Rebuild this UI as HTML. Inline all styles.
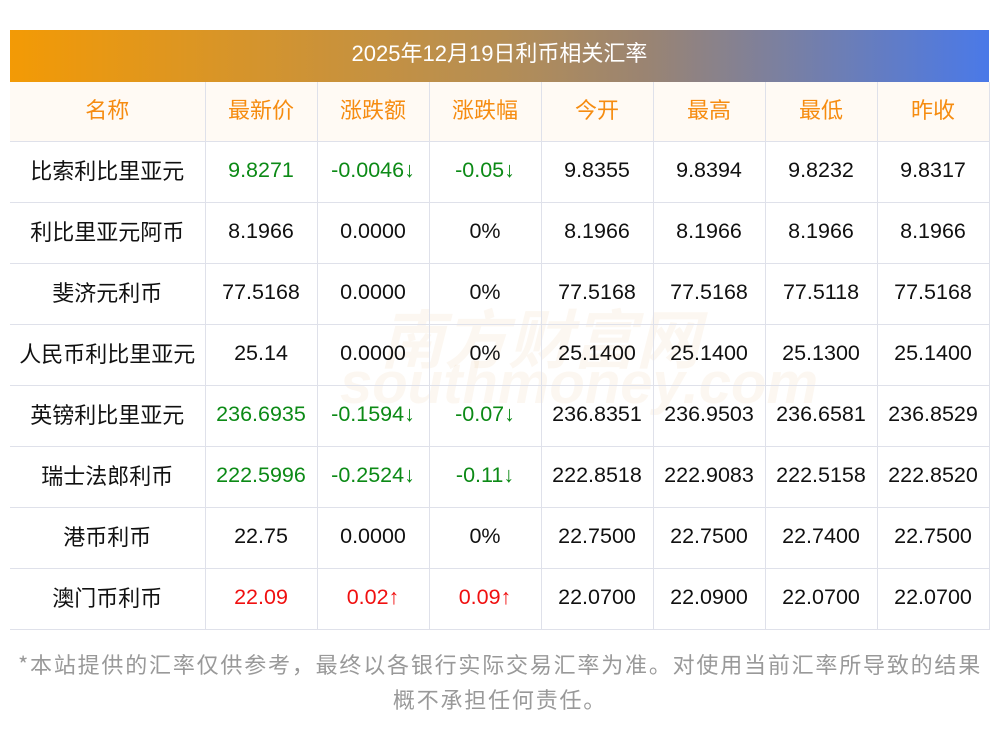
<!DOCTYPE html>
<html><head><meta charset="utf-8"><style>
body{margin:0;background:#fff;width:1000px;height:733px;position:relative;font-family:"Liberation Sans","Noto Sans CJK SC",sans-serif;overflow:hidden}
.bar{position:absolute;left:10px;top:30px;width:979px;height:52px;background:linear-gradient(90deg,#f39a05,#b58e55 50%,#9a8472 65%,#4a79e8);color:#fff;font-size:22px;text-align:center;line-height:48px}
table{position:absolute;left:10px;top:82px;border-collapse:collapse;table-layout:fixed;width:979px}
td{border:1px solid #dfe1ea;text-align:center;font-size:21.5px;height:56px;padding:0 0 4px 0;color:#111;white-space:nowrap;line-height:24px}
tr:first-child td{border-top:none;background:#fffaf4;color:#f68c10;height:53px;padding-bottom:6px;font-family:"Noto Sans CJK SC",sans-serif;font-size:22px}
td:first-child{border-left:none;font-family:"Noto Sans CJK SC",sans-serif;font-size:22px}
.g{color:#0c8a16}.r{color:#f01010}
.foot{position:absolute;left:0;top:647px;width:1000px;text-align:center;color:#999;font-size:22px;line-height:35px;font-family:"Noto Sans CJK SC",sans-serif;letter-spacing:1.8px}
.wm{position:absolute;color:rgba(235,190,150,.13);font-style:italic;font-weight:bold}
</style></head><body>
<div class="bar">2025年12月19日利币相关汇率</div>
<div class="wm" style="left:380px;top:290px;font-size:64px;font-family:'Noto Sans CJK SC',sans-serif">南方财富网</div>
<div class="wm" style="left:340px;top:350px;font-size:58px">southmoney.com</div>
<table>
<colgroup><col style="width:195px"><col style="width:112px"><col style="width:112px"><col style="width:112px"><col style="width:112px"><col style="width:112px"><col style="width:112px"><col style="width:112px"></colgroup>
<tr><td>名称</td><td>最新价</td><td>涨跌额</td><td>涨跌幅</td><td>今开</td><td>最高</td><td>最低</td><td>昨收</td></tr>
<tr><td>比索利比里亚元</td><td class="g">9.8271</td><td class="g">-0.0046↓</td><td class="g">-0.05↓</td><td>9.8355</td><td>9.8394</td><td>9.8232</td><td>9.8317</td></tr>
<tr><td>利比里亚元阿币</td><td>8.1966</td><td>0.0000</td><td>0%</td><td>8.1966</td><td>8.1966</td><td>8.1966</td><td>8.1966</td></tr>
<tr><td>斐济元利币</td><td>77.5168</td><td>0.0000</td><td>0%</td><td>77.5168</td><td>77.5168</td><td>77.5118</td><td>77.5168</td></tr>
<tr><td>人民币利比里亚元</td><td>25.14</td><td>0.0000</td><td>0%</td><td>25.1400</td><td>25.1400</td><td>25.1300</td><td>25.1400</td></tr>
<tr><td>英镑利比里亚元</td><td class="g">236.6935</td><td class="g">-0.1594↓</td><td class="g">-0.07↓</td><td>236.8351</td><td>236.9503</td><td>236.6581</td><td>236.8529</td></tr>
<tr><td>瑞士法郎利币</td><td class="g">222.5996</td><td class="g">-0.2524↓</td><td class="g">-0.11↓</td><td>222.8518</td><td>222.9083</td><td>222.5158</td><td>222.8520</td></tr>
<tr><td>港币利币</td><td>22.75</td><td>0.0000</td><td>0%</td><td>22.7500</td><td>22.7500</td><td>22.7400</td><td>22.7500</td></tr>
<tr><td>澳门币利币</td><td class="r">22.09</td><td class="r">0.02↑</td><td class="r">0.09↑</td><td>22.0700</td><td>22.0900</td><td>22.0700</td><td>22.0700</td></tr>
</table>
<div class="foot">*本站提供的汇率仅供参考，最终以各银行实际交易汇率为准。对使用当前汇率所导致的结果<br>概不承担任何责任。</div>
</body></html>
